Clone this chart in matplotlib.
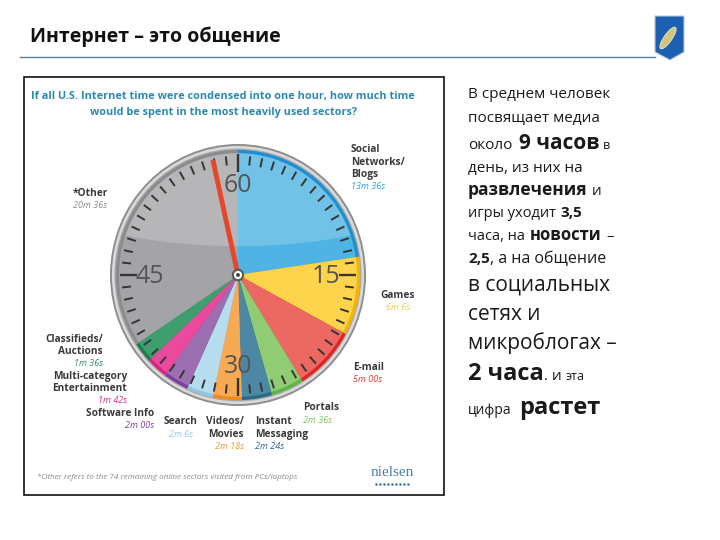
import matplotlib
matplotlib.use('Agg')
import matplotlib.pyplot as plt
from matplotlib.patches import Wedge, Circle, Ellipse, Rectangle, Polygon
import numpy as np

# data (minutes + seconds of one hour)
sectors = ['Social\nNetworks/\nBlogs', 'Games', 'E-mail', 'Portals', 'Instant\nMessaging',
           'Videos/\nMovies', 'Search', 'Software Info', 'Multi-category\nEntertainment',
           'Classifieds/\nAuctions', '*Other']
minutes = [13, 6, 5, 2, 2, 2, 2, 2, 1, 1, 20]
seconds = [36, 6, 0, 36, 24, 18, 6, 0, 42, 36, 36]
clock_numbers = [60, 15, 30, 45]
hand_minute = 57.9

fill = ['#4fb3e3', '#fdd44c', '#ec6862', '#8fcc74', '#4c88a3', '#f8a954',
        '#b6ddee', '#9c70b0', '#ea4a9e', '#3d9f6d', '#a4a4a8']
rim = ['#1d8fd2', '#f4b400', '#e2231f', '#5db443', '#2a6889', '#f28a1c',
       '#8fc7df', '#7b3ea0', '#de1f86', '#1f7c4d', '#8c8c90']
val_col = ['#2f9fd8', '#f0c84a', '#e23a30', '#7cc35a', '#2a5f85', '#f0962c',
           '#8fcbe0', '#7b3ea0', '#e0288c', '#2f8f5f', '#8a8a8a']

# label placement: x, y of first line, horizontal alignment
label_pos = [(351, 150, 'left'), (398, 295, 'center'), (353, 367, 'left'), (303, 408, 'left'),
             (255, 422, 'left'), (244, 422, 'right'), (181, 422, 'center'), (154, 413, 'right'),
             (127, 376, 'right'), (103, 339, 'right'), (90, 193, 'center')]

# right-hand russian text: baseline y, runs (text, size, bold); leading space = gap
text_lines = [
    (98, [('В среднем человек', 11, False)]),
    (122, [('посвящает медиа', 11, False)]),
    (149, [('около', 11, False), (' 9 часов', 15, True), (' в', 9, False)]),
    (172, [('день, из них на', 11, False)]),
    (195, [('развлечения', 12.5, True), (' и', 11, False)]),
    (217, [('игры уходит', 10.5, False), (' 3,5', 11, True)]),
    (240, [('часа, на', 10.5, False), (' новости', 12, True), (' –', 11, False)]),
    (263, [('2,5', 11, True), (', а на общение', 11.5, False)]),
    (291, [('в социальных', 15, False)]),
    (320, [('сетях и', 15, False)]),
    (349, [('микроблогах –', 15, False)]),
    (380, [('2 часа', 17, True), ('. и', 11, False), (' эта', 9, False)]),
    (414, [('цифра', 10, False), (' растет', 17, True)]),
]

FONT = ['Open Sans', 'DejaVu Sans']
plt.rcParams['font.family'] = FONT

fig = plt.figure(figsize=(7.2, 5.4), dpi=100)
bg = fig.add_axes([0, 0, 1, 1])
bg.set_xlim(0, 720)
bg.set_ylim(540, 0)
bg.axis('off')

# slide title + rule + logo
bg.text(30, 37, 'Интернет – это общение', fontsize=14, fontweight='bold', va='center', color='#111111')
bg.plot([20, 655], [57, 57], color='#5a7f9a', lw=1)
shield = Polygon([(655, 16), (684, 16), (684, 52), (670, 60), (655, 52)], closed=True,
                 facecolor='#1d5fb0', edgecolor='#bcc8d8', lw=0.8)
bg.add_patch(shield)
grad = np.linspace(0, 1, 50).reshape(-1, 1)
im = bg.imshow(grad, extent=(655, 684, 60, 16), cmap='Blues_r', vmin=-0.6, vmax=1.2, aspect='auto')
im.set_clip_path(shield)
bg.add_patch(Ellipse((668, 38), 26, 8, angle=-55, facecolor='#e6d27a', edgecolor='#f5f0d0', lw=0.6, alpha=0.9))
bg.set_xlim(0, 720)
bg.set_ylim(540, 0)

# chart frame
bg.add_patch(Rectangle((24, 77), 420, 418, fill=False, edgecolor='#111111', lw=1.2))
bg.text(223, 96, 'If all U.S. Internet time were condensed into one hour, how much time',
        fontsize=7.85, fontweight='bold', color='#2a8ab0', ha='center', va='center')
bg.text(223, 112, 'would be spent in the most heavily used sectors?',
        fontsize=7.85, fontweight='bold', color='#2a8ab0', ha='center', va='center')

# clock axes (slightly taller than wide like the reference)
cx, cy, rx, ry = 238, 275, 128, 131
ck = fig.add_axes([(cx - rx) / 720, (540 - cy - ry) / 540, 2 * rx / 720, 2 * ry / 540])
ck.set_xlim(-1, 1)
ck.set_ylim(-1, 1)
ck.axis('off')

ck.add_patch(Circle((0, 0), 1.0, facecolor='#8e8e8e', edgecolor='none'))
ck.add_patch(Circle((0, 0), 0.985, facecolor='#dadada', edgecolor='none'))
ck.add_patch(Circle((0, 0), 0.965, facecolor='#a9a9a9', edgecolor='none'))

vals = np.array(minutes) + np.array(seconds) / 60.0
start = 0.0
for i, v in enumerate(vals):
    t1, t2 = 90 - 6 * (start + v), 90 - 6 * start
    ck.add_patch(Wedge((0, 0), 0.955, t1, t2, facecolor=rim[i], edgecolor='none'))
    ck.add_patch(Wedge((0, 0), 0.93, t1, t2, facecolor=fill[i], edgecolor='none'))
    start += v

# glass highlight on upper half
inner = Circle((0, 0), 0.93, transform=ck.transData)
hl = Ellipse((0, 0.72), 3.2, 1.0, facecolor='white', edgecolor='none', alpha=0.2)
ck.add_patch(hl)
hl.set_clip_path(inner)

for m in range(60):
    a = np.radians(90 - 6 * m)
    if m % 15 == 0:
        r0, r1, lw = 0.79, 0.92, 1.7
    else:
        r0, r1, lw = 0.84, 0.91, 1.4
    ck.plot([r0 * np.cos(a), r1 * np.cos(a)], [r0 * np.sin(a), r1 * np.sin(a)],
            color='#353535', lw=lw, solid_capstyle='butt')

for n in clock_numbers:
    a = np.radians(90 - 6 * (n % 60))
    ck.text(0.69 * np.cos(a), 0.69 * np.sin(a) - 0.01, str(n), fontsize=18, color='#555555',
            ha='center', va='center')

a = np.radians(90 - 6 * hand_minute)
ck.plot([0, 0.9 * np.cos(a)], [0, 0.9 * np.sin(a)], color='#e5462e', lw=3.5, solid_capstyle='butt')
ck.add_patch(Circle((0, 0), 0.04, facecolor='white', edgecolor='#5a5a5a', lw=1.5, zorder=5))
ck.add_patch(Circle((0, 0), 0.015, facecolor='#444444', edgecolor='none', zorder=6))

# sector labels
for i, name in enumerate(sectors):
    x, y, ha = label_pos[i]
    rows = name.split('\n')
    for k, row in enumerate(rows):
        bg.text(x, y + 12.3 * k, row, fontsize=7.3, fontweight='bold', color='#3a3a3a',
                ha=ha, va='center')
    s = seconds[i]
    vtxt = '%dm %ss' % (minutes[i], s if s else '00')
    bg.text(x, y + 12.3 * len(rows), vtxt, fontsize=6.5, style='italic', color=val_col[i],
            ha=ha, va='center')

bg.text(37, 477, '*Other refers to the 74 remaining online sectors visited from PCs/laptops',
        fontsize=5.85, style='italic', color='#8a8a8a', va='center')
bg.text(392, 473, 'nielsen', fontsize=11, family='Liberation Serif', color='#4a7fa6',
        ha='center', va='center')
bg.scatter(np.linspace(376, 408, 9), np.full(9, 484), s=0.8, color='#4a7fa6')

# right text, runs placed one after another
renderer = fig.canvas.get_renderer()
for yb, parts in text_lines:
    x = 468
    for txt, size, bold in parts:
        if txt.startswith(' '):
            x += size * 0.3 * 100 / 72
            txt = txt[1:]
        t = bg.text(x, yb, txt, fontsize=size, fontweight='bold' if bold else 'normal',
                    color='#1a1a1a', va='baseline', ha='left')
        x += t.get_window_extent(renderer).width

fig.savefig('out.png', dpi=100)
